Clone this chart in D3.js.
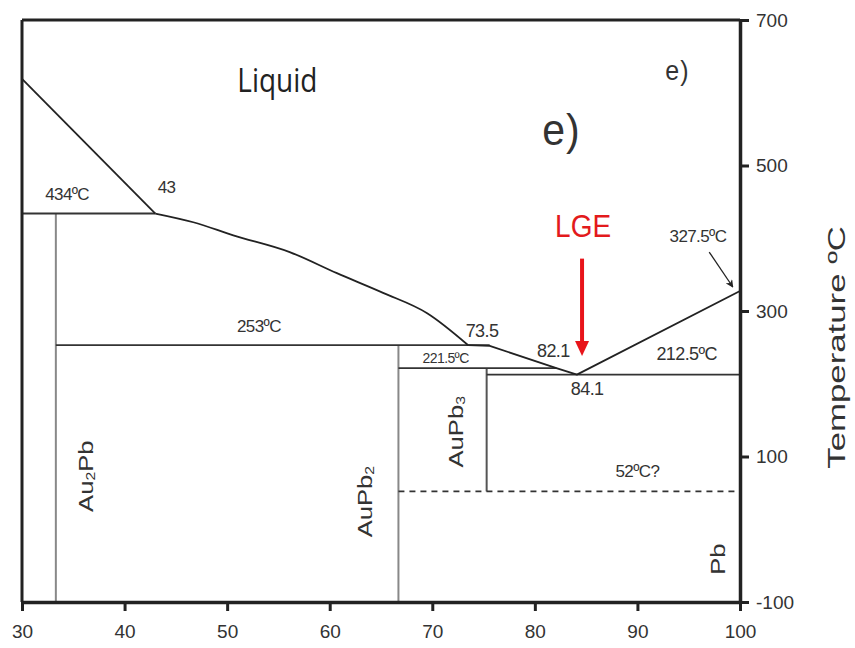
<!DOCTYPE html>
<html>
<head>
<meta charset="utf-8">
<script src="https://cdn.jsdelivr.net/npm/d3@7"></script>
<style>
  html, body { margin: 0; padding: 0; background: #fff; }
  svg { display: block; }
</style>
</head>
<body>
<svg id="chart" width="855" height="648"></svg>
<script>
// ---------- data ----------
const xTicks = [30, 40, 50, 60, 70, 80, 90, 100];
const yTicks = [-100, 100, 300, 500, 700];

// liquidus (at.% Pb, °C), in three parts
const liquidusA = [[30, 619], [43, 434]];
const liquidusB = [
  [43, 434], [46.7, 422], [50.6, 404], [56.1, 381], [60.7, 352],
  [65.2, 325], [69.5, 297], [73.5, 253]
];
const liquidusC = [[73.5, 253], [75.6, 252], [82.1, 221.5], [84.1, 212.5], [100, 327.5]];

// horizontal invariant lines: temperature, from, to
const isoTemps = [434, 253, 221.5, 212.5];
const isoFrom  = [30, 33.3, 66.7, 75.3];
const isoTo    = [43, 75.6, 82.1, 100];

// vertical compound lines: composition, bottom temp, top temp
const compX    = [33.3, 66.7, 75.3];
const compLow  = [-100, -100, 52];
const compHigh = [434, 253, 221.5];

// dashed transformation line
const dashedT = 52, dashedFrom = 66.7, dashedTo = 100;

// text annotations: text, x (at.% Pb), y (°C)
const notes = [
  ["434ºC", 34.4, 452], ["43", 44.1, 462], ["253ºC", 53.1, 271],
  ["73.5", 74.85, 264], ["221.5ºC", 71.3, 229], ["82.1", 81.8, 237],
  ["84.1", 85.1, 184], ["212.5ºC", 94.8, 233], ["327.5ºC", 95.9, 395],
  ["52ºC?", 90, 72]
];
const noteSizes = [17, 17, 17, 18, 14, 18, 18, 18, 17, 17];

// phase labels (rotated): base, subscript, tail, x, y
const phases = [
  ["Au", "2", "Pb", 36.2, 73], ["AuPb", "2", "", 63.4, 38],
  ["AuPb", "3", "", 72.3, 134], ["Pb", "", "", 97.8, -41]
];

// LGE arrow (x, y top, y tip) and 327.5 pointer
const lgeX = 84.6, lgeTop = 372, lgeTip = 238;
const ptrFrom = [97.0, 381], ptrTo = [99.3, 333];

// ---------- drawing ----------
const svg = d3.select("#chart");
const x = d3.scaleLinear().domain([30, 100]).range([22, 740]);
const y = d3.scaleLinear().domain([-100, 700]).range([602, 20]);
const ink = "#222";
const font = "'Liberation Sans', Arial, sans-serif";

svg.append("defs").append("marker")
  .attr("id", "ah").attr("viewBox", "0 0 10 10").attr("refX", 9).attr("refY", 5)
  .attr("markerWidth", 6).attr("markerHeight", 6).attr("orient", "auto")
  .append("path").attr("d", "M0,0 L10,5 L0,10 L3,5 z").attr("fill", ink);

// vertical compound lines
compX.forEach((c, i) => {
  svg.append("line")
    .attr("x1", x(c)).attr("x2", x(c))
    .attr("y1", y(compLow[i])).attr("y2", y(compHigh[i]))
    .attr("stroke", i < 2 ? "#888" : "#555").attr("stroke-width", 2);
});

// isotherms
isoTemps.forEach((t, i) => {
  svg.append("line")
    .attr("x1", x(isoFrom[i])).attr("x2", x(isoTo[i]))
    .attr("y1", y(t)).attr("y2", y(t))
    .attr("stroke", "#333").attr("stroke-width", 1.8);
});

// dashed line
svg.append("line")
  .attr("x1", x(dashedFrom)).attr("x2", x(dashedTo))
  .attr("y1", y(dashedT)).attr("y2", y(dashedT))
  .attr("stroke", "#333").attr("stroke-width", 1.8)
  .attr("stroke-dasharray", "6,5");

// liquidus
const straight = d3.line().x(d => x(d[0])).y(d => y(d[1]));
const smooth = d3.line().x(d => x(d[0])).y(d => y(d[1])).curve(d3.curveMonotoneX);
[[liquidusA, straight], [liquidusB, smooth], [liquidusC, straight]].forEach(([pts, gen]) => {
  svg.append("path").datum(pts).attr("d", gen)
    .attr("fill", "none").attr("stroke", ink).attr("stroke-width", 1.8)
    .attr("stroke-linejoin", "round");
});

// frame: top and left
svg.append("line").attr("x1", x(30)).attr("x2", x(100)).attr("y1", y(700)).attr("y2", y(700))
  .attr("stroke", ink).attr("stroke-width", 3);
svg.append("line").attr("x1", x(30)).attr("x2", x(30)).attr("y1", y(700)).attr("y2", y(-100))
  .attr("stroke", ink).attr("stroke-width", 3);

// axes
const xAxis = svg.append("g").attr("transform", `translate(0,${y(-100)})`)
  .call(d3.axisBottom(x).tickValues(xTicks).tickSize(9).tickSizeOuter(0).tickPadding(14)
    .tickFormat(d => String(d)));
const yAxis = svg.append("g").attr("transform", `translate(${x(100)},0)`)
  .call(d3.axisRight(y).tickValues(yTicks).tickSize(9).tickSizeOuter(0).tickPadding(7)
    .tickFormat(d => String(d)));
[xAxis, yAxis].forEach(g => {
  g.select(".domain").attr("stroke", ink).attr("stroke-width", 3.5);
  g.selectAll(".tick line").attr("stroke", ink).attr("stroke-width", 3);
  g.selectAll(".tick text").attr("fill", "#333").attr("font-family", font).attr("font-size", 19);
});

// axis title
svg.append("text")
  .attr("transform", `translate(845,${y(250)}) rotate(-90) scale(1.45,1)`)
  .attr("text-anchor", "middle").attr("font-family", font).attr("font-size", 24)
  .attr("fill", "#333").text("Temperature ºC");

// annotations
notes.forEach((n, i) => {
  svg.append("text")
    .attr("x", x(n[1])).attr("y", y(n[2]))
    .attr("text-anchor", "middle").attr("font-family", font)
    .attr("font-size", noteSizes[i]).attr("fill", "#333")
    .attr("letter-spacing", -0.6)
    .text(n[0]);
});

// region labels
svg.append("text").attr("transform", `translate(${x(54.9)},${y(601)}) scale(1,1.15)`)
  .attr("text-anchor", "middle").attr("font-family", "'Open Sans', sans-serif")
  .attr("font-size", 28).attr("fill", "#222").text("Liquid");
svg.append("text").attr("transform", `translate(${x(93.9)},${y(617)}) scale(1,1.1)`)
  .attr("text-anchor", "middle").attr("font-family", font)
  .attr("font-size", 25).attr("letter-spacing", 1).attr("fill", "#333").text("e)");
svg.append("text").attr("transform", `translate(${x(82.6)},${y(528)}) scale(1,1.1)`)
  .attr("text-anchor", "middle").attr("font-family", font)
  .attr("font-size", 41).attr("letter-spacing", 1).attr("fill", "#333").text("e)");

// phase labels
phases.forEach(p => {
  const t = svg.append("text")
    .attr("transform", `translate(${x(p[3])},${y(p[4])}) rotate(-90) scale(1.22,1)`)
    .attr("text-anchor", "middle").attr("dominant-baseline", "central")
    .attr("font-family", font).attr("font-size", 21).attr("fill", "#333");
  t.append("tspan").text(p[0]);
  if (p[1]) t.append("tspan").attr("font-size", 13).attr("dy", 5).text(p[1]);
  if (p[2]) t.append("tspan").attr("dy", -5).text(p[2]);
});

// LGE label and red arrow
svg.append("text").attr("transform", `translate(${x(84.7)},${y(402)}) scale(1,1.12)`)
  .attr("text-anchor", "middle").attr("font-family", font)
  .attr("font-size", 28).attr("fill", "#e31a1c").text("LGE");
const headH = 15, headW = 7;
svg.append("line")
  .attr("x1", x(lgeX)).attr("x2", x(lgeX))
  .attr("y1", y(lgeTop)).attr("y2", y(lgeTip) - headH + 1)
  .attr("stroke", "#e8141a").attr("stroke-width", 4);
svg.append("path")
  .attr("d", `M${x(lgeX) - headW},${y(lgeTip) - headH} L${x(lgeX) + headW},${y(lgeTip) - headH} L${x(lgeX)},${y(lgeTip)} Z`)
  .attr("fill", "#e8141a");

// 327.5 pointer
svg.append("line")
  .attr("x1", x(ptrFrom[0])).attr("y1", y(ptrFrom[1]))
  .attr("x2", x(ptrTo[0])).attr("y2", y(ptrTo[1]))
  .attr("stroke", ink).attr("stroke-width", 1.3).attr("marker-end", "url(#ah)");
</script>
</body>
</html>
